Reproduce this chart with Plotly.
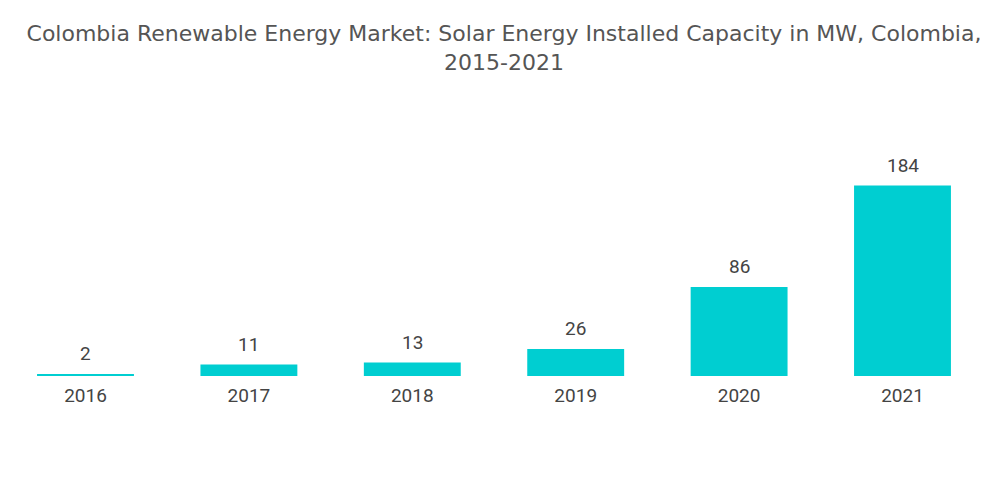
import plotly.graph_objects as go

years = ["2016", "2017", "2018", "2019", "2020", "2021"]
capacity_mw = [2, 11, 13, 26, 86, 184]
value_labels = [str(v) for v in capacity_mw]

title_text = "Colombia Renewable Energy Market: Solar Energy Installed Capacity in MW, Colombia,<br>2015-2021"

fig = go.Figure(
    go.Bar(
        x=years,
        y=capacity_mw,
        marker=dict(color="#00CED1", line=dict(width=0)),
        hoverinfo="x+y",
    )
)

for i, (v, lab) in enumerate(zip(capacity_mw, value_labels)):
    fig.add_annotation(
        x=i, y=v, xref="x", yref="y",
        text=lab, showarrow=False,
        yanchor="bottom", yshift=7,
        font=dict(family="Roboto", size=19, color="#444444"),
    )

fig.update_layout(
    width=992,
    height=496,
    paper_bgcolor="white",
    plot_bgcolor="white",
    margin=dict(l=0, r=16, t=100, b=128),
    bargap=0.407,
    showlegend=False,
    title=dict(
        text=title_text,
        x=0.5,
        xanchor="center",
        y=0.933,
        yanchor="middle",
        font=dict(family="DejaVu Sans", size=22, color="#555555"),
    ),
    xaxis=dict(
        type="category",
        range=[-0.4743, 5.4988],
        showgrid=False,
        showline=False,
        zeroline=False,
        ticks="",
        ticklabelstandoff=6,
        tickfont=dict(family="Roboto", size=19, color="#444444"),
    ),
    yaxis=dict(
        range=[0, 259],
        visible=False,
        showgrid=False,
        zeroline=False,
    ),
)

fig.write_html("out.html")
